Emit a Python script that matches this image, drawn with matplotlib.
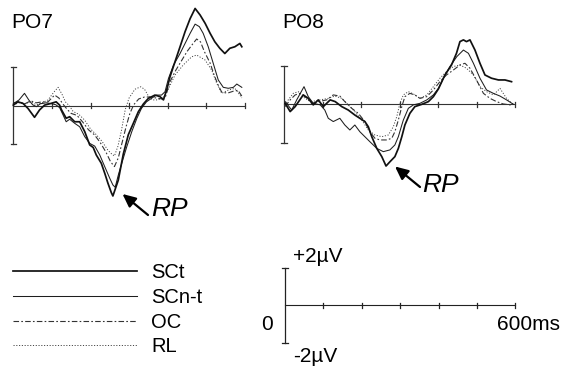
import matplotlib
matplotlib.use("Agg")
import matplotlib.pyplot as plt

plt.rcParams['font.family'] = ['Liberation Sans', 'DejaVu Sans']
plt.rcParams['lines.scale_dashes'] = False

W, H = 564, 368

# ---- data (time in ms, amplitude in microvolts) ----
PO7_SCT_T = [0, 12, 25, 38, 55, 68, 81, 98, 111, 120, 125, 137, 146, 159, 172, 185, 198, 207, 215, 228,
             237, 245, 254, 258, 272, 285, 298, 311, 324, 337, 350, 367, 380, 389, 397, 406, 419, 432, 445, 458,
             471, 484, 497, 510, 522, 535, 548, 561, 574, 587, 592]
PO7_SCT_V = [0.03, 0.2, 0.12, -0.14, -0.6, -0.22, 0.03, 0.12, 0.2, 0.03, -0.22, -0.65, -0.57, -0.83, -0.83, -1.34, -2.03, -2.16, -2.55, -2.98,
             -3.5, -4.0, -4.5, -4.67, -3.85, -2.5, -1.5, -0.91, -0.31, 0.09, 0.38, 0.55, 0.47, 0.3, 0.8, 1.5, 2.28, 3.05, 3.83, 4.5,
             5.03, 4.69, 4.26, 3.74, 3.31, 2.97, 2.7, 2.97, 3.05, 3.22, 3.05]

PO7_SCNT_T = [0, 15, 29, 40, 50, 60, 70, 85, 100, 110, 120, 129, 137, 146, 159, 172, 185, 198, 211, 224,
              237, 250, 258, 264, 272, 281, 294, 307, 320, 332, 345, 358, 371, 384, 393, 402, 415, 432, 445, 458,
              471, 482, 492, 505, 518, 531, 544, 557, 570, 579, 592]
PO7_SCNT_V = [0.1, 0.3, 0.64, 0.3, 0.05, -0.05, 0.1, 0.15, 0.1, 0.05, -0.1, -0.48, -0.83, -0.7, -0.91, -1.09, -1.6, -1.95, -2.09, -2.55,
              -3.16, -3.76, -4.1, -4.22, -3.59, -2.98, -2.12, -1.34, -0.66, -0.14, 0.2, 0.38, 0.55, 0.55, 0.72, 1.41, 2.1, 2.7, 3.22, 3.74,
              4.22, 4.09, 3.74, 3.05, 2.19, 1.33, 0.95, 0.9, 0.95, 1.12, 0.95]

PO7_OC_T = [0, 15, 30, 45, 60, 75, 90, 107, 118, 128, 140, 150, 165, 180, 195, 210, 225, 240, 252, 262,
            272, 282, 292, 302, 312, 325, 340, 355, 370, 385, 395, 405, 420, 435, 450, 465, 475, 485, 495, 510,
            520, 530, 540, 555, 570, 582, 592]
PO7_OC_V = [0.15, 0.2, 0.1, 0.25, 0.15, 0.2, 0.2, 0.55, 0.4, 0.1, -0.2, -0.4, -0.5, -0.85, -1.25, -1.5, -1.9, -2.4, -2.9, -3.15,
            -2.7, -1.9, -1.1, -0.4, 0.05, 0.35, 0.45, 0.45, 0.4, 0.35, 0.5, 1.2, 1.8, 2.3, 2.8, 3.2, 3.45, 3.3, 2.8, 2.2,
            1.6, 1.1, 0.7, 0.65, 0.75, 0.8, 0.5]

PO7_RL_T = [0, 15, 30, 45, 60, 75, 90, 105, 116, 126, 135, 145, 155, 170, 185, 200, 215, 230, 245, 255,
            262, 271, 280, 290, 300, 315, 330, 340, 350, 360, 375, 390, 400, 419, 440, 462, 475, 497, 514, 527,
            540, 557, 574, 587, 592]
PO7_RL_V = [0.05, 0.15, 0.1, 0.2, 0.05, 0.15, 0.3, 0.7, 0.95, 0.6, 0.2, 0.0, -0.3, -0.45, -0.75, -1.2, -1.5, -1.85, -2.3, -2.5,
            -2.6, -2.1, -1.3, -0.2, 0.4, 0.85, 0.98, 0.85, 0.5, 0.3, 0.3, 0.45, 0.8, 1.59, 2.1, 2.53, 2.62, 2.36, 1.84, 1.16,
            0.64, 0.81, 0.9, 0.55, 0.4]

PO8_SCT_T = [3, 16, 29, 50, 63, 76, 89, 102, 120, 133, 150, 167, 184, 197, 210, 219, 228, 241, 254, 265,
             275, 288, 297, 306, 314, 327, 340, 358, 375, 388, 401, 418, 435, 448, 457, 466, 474, 483, 496, 509,
             522, 539, 557, 574, 591]
PO8_SCT_V = [0.05, -0.38, -0.12, 0.49, 0.31, -0.03, 0.23, -0.12, 0.23, 0.14, -0.12, -0.3, -0.56, -0.73, -0.9, -1.17, -1.69, -2.3, -2.73, -3.22,
             -3.0, -2.73, -2.3, -1.69, -1.08, -0.47, -0.12, 0.0, 0.14, 0.4, 0.8, 1.53, 2.05, 2.66, 3.27, 3.36, 3.27, 3.36, 2.83, 2.14,
             1.53, 1.36, 1.27, 1.27, 1.18]

PO8_SCNT_T = [3, 20, 33, 52, 63, 76, 94, 106, 115, 128, 145, 158, 171, 184, 197, 210, 223, 241, 258, 275,
              288, 297, 306, 310, 323, 336, 353, 371, 388, 401, 414, 431, 449, 466, 479, 492, 509, 526, 544, 561,
              578, 596]
PO8_SCNT_V = [0.14, -0.3, 0.23, 0.92, 0.4, 0.05, -0.03, -0.3, -0.73, -0.9, -0.73, -1.08, -1.34, -1.08, -1.43, -1.69, -1.95, -2.3, -2.47, -2.38,
              -2.12, -1.69, -1.08, -0.82, -0.21, -0.03, 0.05, 0.23, 0.49, 0.83, 1.36, 1.97, 2.49, 2.83, 2.66, 2.14, 1.36, 0.75, 0.57, 0.43,
              0.23, 0.0]

PO8_OC_T = [3, 16, 29, 42, 55, 72, 90, 111, 128, 145, 158, 176, 193, 210, 223, 236, 249, 267, 280, 288,
            297, 306, 314, 327, 340, 353, 371, 388, 405, 422, 440, 457, 470, 483, 500, 518, 535, 552, 569, 587,
            596]
PO8_OC_V = [-0.12, 0.23, 0.49, 0.57, 0.4, 0.05, 0.14, 0.23, 0.49, 0.43, 0.14, -0.21, -0.47, -0.9, -1.43, -1.77, -1.86, -1.86, -1.77, -1.43,
            -0.82, -0.12, 0.4, 0.57, 0.49, 0.31, 0.4, 0.75, 1.18, 1.53, 1.79, 2.05, 2.14, 1.88, 1.27, 0.57, 0.31, 0.14, 0.02, -0.03,
            0.0]

PO8_RL_T = [3, 11, 24, 37, 55, 72, 94, 115, 132, 150, 167, 184, 202, 219, 236, 254, 271, 284, 293, 301,
            310, 323, 336, 353, 371, 388, 405, 422, 440, 457, 474, 492, 509, 526, 544, 561, 578, 596]
PO8_RL_V = [-0.05, 0.23, 0.57, 0.66, 0.3, 0.14, 0.23, 0.31, 0.43, 0.31, -0.03, -0.38, -0.82, -1.34, -1.6, -1.69, -1.6, -1.17, -0.64, 0.05,
            0.49, 0.66, 0.54, 0.31, 0.49, 0.92, 1.36, 1.7, 1.97, 2.05, 1.88, 1.53, 0.92, 0.66, 0.49, 0.83, 0.31, -0.03]

CONDITIONS = ['SCt', 'SCn-t', 'OC', 'RL']
TICKS_MS = [100, 200, 300, 400, 500, 600]
AMP_LIMIT = 2      # +/- 2 uV
TIME_END = 600     # ms

STYLES = {
    'SCt':   dict(color='#111111', lw=1.25, linestyle='-'),
    'SCn-t': dict(color='#1e1e1e', lw=0.75, linestyle='-'),
    'OC':    dict(color='#333333', lw=0.8, dashes=(4, 1.6, 1.2, 1.6)),
    'RL':    dict(color='#444444', lw=0.7, dashes=(0.8, 1.2)),
}

fig = plt.figure(figsize=(W / 100, H / 100), dpi=100)


def panel_axes(x0, y0, sx, sy, left, right, top, bottom):
    # axes whose data coords map onto the given pixel box
    ax = fig.add_axes([left / W, 1 - bottom / H, (right - left) / W, (bottom - top) / H])
    ax.set_xlim((left - x0) / sx, (right - x0) / sx)
    ax.set_ylim((y0 - bottom) / sy, (y0 - top) / sy)
    ax.set_axis_off()
    return ax


def draw_frame(ax, sx, sy, color='#333333'):
    cap = 2.6 / sx
    tick = 2.6 / sy
    ax.plot([0, TIME_END], [0, 0], color=color, lw=0.8, zorder=1)
    ax.plot([0, 0], [-AMP_LIMIT, AMP_LIMIT], color=color, lw=0.9, zorder=1)
    for v in (-AMP_LIMIT, AMP_LIMIT):
        ax.plot([-cap, cap], [v, v], color=color, lw=0.9)
    for t in TICKS_MS:
        ax.plot([t, t], [-tick, tick], color=color, lw=0.9)


ax7 = panel_axes(13.3, 105.7, 0.386, 19.33, 0, 270, 0, 240)
ax8 = panel_axes(284.0, 104.3, 0.385, 19.17, 275, 560, 0, 240)
axs = panel_axes(285.0, 305.3, 0.384, 18.9, 275, 564, 250, 368)

draw_frame(ax7, 0.386, 19.33)
draw_frame(ax8, 0.385, 19.17)
draw_frame(axs, 0.384, 18.9, color='#222222')

po7 = {'SCt': (PO7_SCT_T, PO7_SCT_V), 'SCn-t': (PO7_SCNT_T, PO7_SCNT_V),
       'OC': (PO7_OC_T, PO7_OC_V), 'RL': (PO7_RL_T, PO7_RL_V)}
po8 = {'SCt': (PO8_SCT_T, PO8_SCT_V), 'SCn-t': (PO8_SCNT_T, PO8_SCNT_V),
       'OC': (PO8_OC_T, PO8_OC_V), 'RL': (PO8_RL_T, PO8_RL_V)}

for ax, curves in ((ax7, po7), (ax8, po8)):
    for name in reversed(CONDITIONS):
        t, v = curves[name]
        ax.plot(t, v, solid_joinstyle='round', zorder=3, **STYLES[name])

# overlay in pixel coordinates for labels, arrows and the legend
ov = fig.add_axes([0, 0, 1, 1])
ov.set_xlim(0, W)
ov.set_ylim(H, 0)
ov.set_axis_off()
ov.patch.set_alpha(0)

ov.text(11, 28.5, 'PO7', fontsize=15, ha='left', va='baseline')
ov.text(282, 28.5, 'PO8', fontsize=15, ha='left', va='baseline')

arrow = dict(arrowstyle='-|>,head_length=0.6,head_width=0.28', color='black',
             lw=1.6, shrinkA=0, shrinkB=0, mutation_scale=13)
ov.annotate('', xy=(122.5, 194), xytext=(148, 215), arrowprops=arrow)
ov.annotate('', xy=(395, 166.5), xytext=(420, 187), arrowprops=arrow)
ov.text(151, 216, 'RP', fontsize=19, style='italic', ha='left', va='baseline')
ov.text(422, 192, 'RP', fontsize=19, style='italic', ha='left', va='baseline')

# legend
legend_y = [270.5, 296, 320.7, 345]
label_base = [278.5, 303.3, 328.3, 352.3]
for name, y, yb in zip(CONDITIONS, legend_y, label_base):
    ov.plot([12.7, 136.7], [y, y], **STYLES[name])
    ov.text(151.5, yb, name, fontsize=14.5, ha='left', va='baseline')

# scale bar labels
ov.text(293, 261.7, '+2µV', fontsize=15, ha='left', va='baseline')
ov.text(293, 362, '-2µV', fontsize=15, ha='left', va='baseline')
ov.text(261.5, 330, '0', fontsize=15, ha='left', va='baseline')
ov.text(560, 330, '600ms', fontsize=15, ha='right', va='baseline')

fig.savefig('out.png', dpi=100)
